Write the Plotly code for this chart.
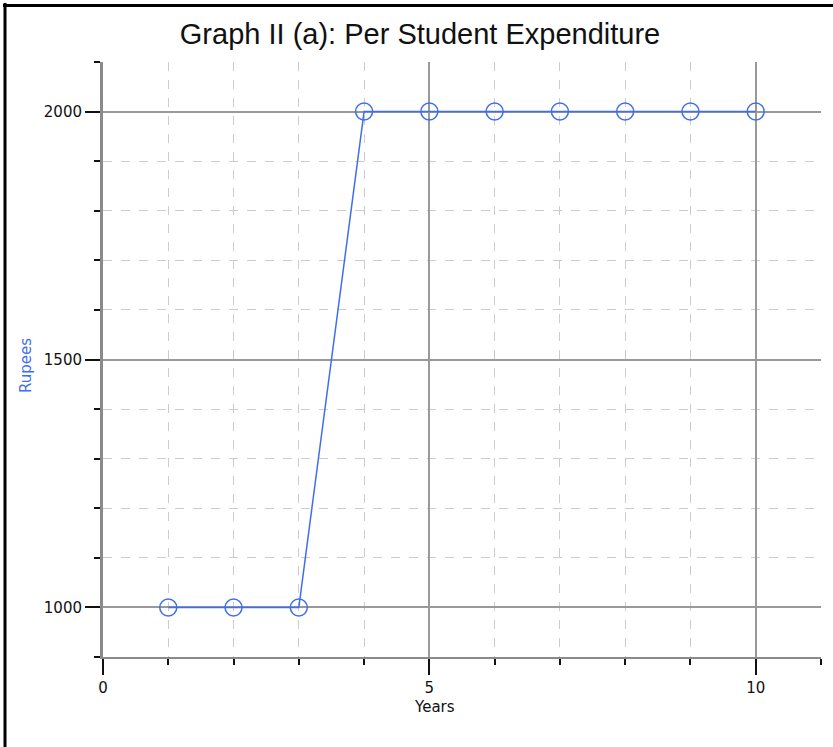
import plotly.graph_objects as go

# ---- data ----
years = [1, 2, 3, 4, 5, 6, 7, 8, 9, 10]
rupees = [1000, 1000, 1000, 2000, 2000, 2000, 2000, 2000, 2000, 2000]
title_text = "Graph II (a): Per Student Expenditure"
x_label = "Years"
y_label = "Rupees"

# ---- layout constants ----
W, H = 833, 747
L, R, T, B = 103, 12, 62, 90
PW, PH = W - L - R, H - T - B

def px_x(px):
    return (px - L) / PW

def px_y(py):
    return (H - B - py) / PH

TITLE_FONT = "Liberation Sans, Arial, sans-serif"
AX_FONT = "DejaVu Sans, Verdana, sans-serif"
BLUE = "#3f6fee"

fig = go.Figure()
fig.add_trace(go.Scatter(
    x=years, y=rupees, mode="lines+markers",
    line=dict(color=BLUE, width=1.5),
    marker=dict(symbol="circle-open", size=17, color=BLUE, line=dict(width=1.5, color=BLUE)),
    showlegend=False, cliponaxis=False,
))

fig.update_layout(
    width=W, height=H,
    margin=dict(l=L, r=R, t=T, b=B),
    paper_bgcolor="white", plot_bgcolor="white",
    font=dict(family=AX_FONT, size=15, color="#111"),
    title=dict(text=title_text, x=420 / W, xref="container", xanchor="center",
               y=1 - 34 / H, yref="container", yanchor="middle",
               font=dict(family=TITLE_FONT, size=29, color="#111")),
    xaxis=dict(
        range=[0, 11], tick0=0, dtick=5,
        showline=True, linecolor="#8a8a8a", linewidth=2,
        ticks="outside", ticklen=16, tickwidth=2, tickcolor="#111",
        showgrid=True, gridcolor="#999999", gridwidth=1.5,
        zeroline=False,
        tickfont=dict(family=AX_FONT, size=15),
        minor=dict(dtick=1, tick0=0, ticks="outside", ticklen=6, tickwidth=2, tickcolor="#111",
                   showgrid=True, gridcolor="#cccccc", gridwidth=1, griddash="dash"),
    ),
    yaxis=dict(
        range=[900, 2100], tick0=0, dtick=500,
        showline=True, linecolor="#8a8a8a", linewidth=3,
        ticks="outside", ticklen=15, tickwidth=2, tickcolor="#111",
        showgrid=True, gridcolor="#999999", gridwidth=1.5,
        zeroline=False,
        tickfont=dict(family=AX_FONT, size=15),
        minor=dict(dtick=100, tick0=0, ticks="outside", ticklen=6, tickwidth=2, tickcolor="#111",
                   showgrid=True, gridcolor="#cccccc", gridwidth=1, griddash="dash"),
    ),
    annotations=[
        dict(text=x_label, xref="paper", yref="paper", x=px_x(434), y=px_y(707),
             xanchor="center", yanchor="middle", showarrow=False,
             font=dict(family=AX_FONT, size=15, color="#111")),
        dict(text=y_label, xref="paper", yref="paper", x=px_x(26), y=px_y(366),
             xanchor="center", yanchor="middle", showarrow=False, textangle=-90,
             font=dict(family=AX_FONT, size=15, color=BLUE)),
    ],
    shapes=[
        dict(type="line", xref="paper", yref="paper", layer="above",
             x0=px_x(5), x1=px_x(5), y0=px_y(3), y1=px_y(H + 2),
             line=dict(color="black", width=3)),
        dict(type="line", xref="paper", yref="paper", layer="above",
             x0=px_x(3), x1=px_x(W + 2), y0=px_y(5.5), y1=px_y(5.5),
             line=dict(color="black", width=3)),
    ],
)

fig.write_html("out.html", config={"displayModeBar": False},
               post_script="document.body.style.margin='0';")
